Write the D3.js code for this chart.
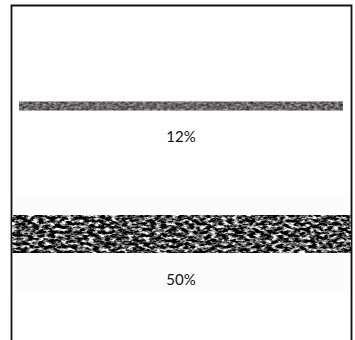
<!DOCTYPE html>
<html><head><meta charset="utf-8">
<script src="https://cdn.jsdelivr.net/npm/d3@7"></script>
<style>html,body{margin:0;padding:0;background:#fff;}svg{display:block;}</style>
</head><body>
<script>
const categories = ["12%", "50%"];
const values = [12, 50];
const labels = ["12%", "50%"];

const W = 355, H = 340;
const svg = d3.select("body").append("svg").attr("width", W).attr("height", H);
const defs = svg.append("defs");

function noiseFilter(id, freq, oct, seed, m) {
  const f = defs.append("filter").attr("id", id)
    .attr("x", 0).attr("y", 0).attr("width", 1).attr("height", 1)
    .attr("filterUnits", "objectBoundingBox")
    .attr("color-interpolation-filters", "sRGB");
  f.append("feTurbulence").attr("type", "fractalNoise").attr("baseFrequency", freq)
    .attr("numOctaves", oct).attr("seed", seed).attr("result", "n");
  f.append("feColorMatrix").attr("in", "n").attr("type", "matrix").attr("values", m).attr("result", "c");
  f.append("feComposite").attr("in", "c").attr("in2", "SourceGraphic").attr("operator", "in");
}
noiseFilter("thinTex", "0.28 0.45", 2, 3,
  "0.75 0 0 0 0.05  0.75 0 0 0 0.03  0.75 0 0 0 0.03  0 0 0 0 1");
noiseFilter("thickTex", "0.18 0.35", 3, 7,
  "3.0 0 0 0 -1.2  3.0 0 0 0 -1.21  3.0 0 0 0 -1.21  0 0 0 0 1");

// faint background band behind the lower bar
svg.append("rect").attr("x", 12).attr("y", 195).attr("width", 340).attr("height", 97).attr("fill", "#fcfcfc");

// frame
svg.append("path").attr("d", "M11.5,340 V5.5 H351.5 V340")
  .attr("fill", "none").attr("stroke", "#111").attr("stroke-width", 1.8);

const thick = d3.scaleLinear().domain([0, 100]).range([0, 76]);
const y = d3.scalePoint().domain(categories).range([106, 234]);
const xStart = [19, 12], xEnd = [343, 351];
const filters = ["thinTex", "thickTex"];

svg.selectAll("rect.bar").data(values).join("rect").attr("class", "bar")
  .attr("x", (d, i) => xStart[i])
  .attr("width", (d, i) => xEnd[i] - xStart[i])
  .attr("y", (d, i) => y(categories[i]) - thick(d) / 2)
  .attr("height", d => thick(d))
  .attr("fill", "#000")
  .attr("filter", (d, i) => `url(#${filters[i]})`);

svg.selectAll("text.lbl").data(labels).join("text").attr("class", "lbl")
  .attr("x", 181)
  .attr("y", (d, i) => y(categories[i]) + [36, 51][i])
  .attr("text-anchor", "middle")
  .attr("font-family", "Lato, 'Noto Sans', sans-serif")
  .attr("font-size", 15)
  .attr("fill", "#111")
  .text(d => d);
</script>
</body></html>
